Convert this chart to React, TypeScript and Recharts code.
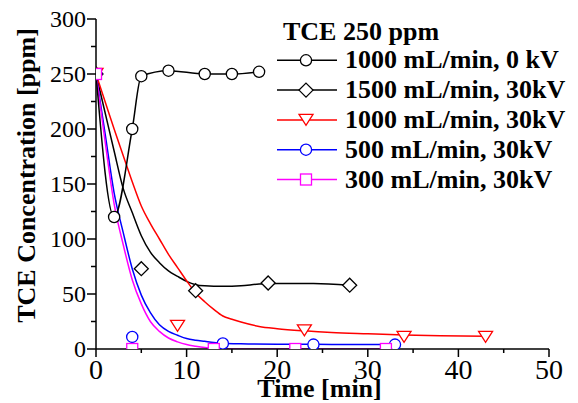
import { LineChart, Line, XAxis, YAxis, Legend, Label } from 'recharts';

const legendTitle = 'TCE 250 ppm';
const seriesNames = [
  '1000 mL/min, 0 kV',
  '1500 mL/min, 30kV',
  '1000 mL/min, 30kV',
  '500 mL/min, 30kV',
  '300 mL/min, 30kV',
];

// measured concentrations [ppm] vs time [min]
const time0kV = [0, 2, 4, 5, 8, 12, 15, 18];
const conc0kV = [250, 120, 200, 248, 253, 250, 250, 252];

const time1500 = [0, 5, 11, 19, 28];
const conc1500 = [250, 73, 53, 60, 58];

const time1000 = [0, 9, 23, 34, 43];
const conc1000 = [250, 21, 17, 11, 11];

const time500 = [0, 4, 14, 24, 33];
const conc500 = [250, 11, 5, 4, 4];

const time300 = [0, 4, 13, 22, 32];
const conc300 = [250, 0, 0, 0, 0];

// fitted decay curves
const fitTime1500 = [0, 1, 2, 3, 4, 5, 6, 7, 8, 9, 10, 11, 12, 14, 16, 18, 20, 24, 28];
const fit1500 = [250, 215, 180, 146, 124, 103, 88, 78.5, 71, 66, 61.5, 58.5, 57.5, 57, 57.5, 59, 59.5, 59.5, 58];

const fitTime1000 = [0, 1, 2, 3, 4, 5, 6, 7, 8, 9, 10, 11, 12, 13, 14, 15, 16, 18, 20, 23, 26, 30, 34, 38, 43];
const fit1000 = [250, 225, 200, 176, 152, 130, 114, 100, 86, 74, 62, 51, 43, 36, 30, 27, 24.5, 20.5, 18.5, 16.5, 15, 13.8, 12.7, 12, 11.5];

const fitTime500 = [0, 1, 2, 3, 4, 5, 6, 7, 8, 9, 10, 11, 12, 13, 14, 16, 20, 26, 33];
const fit500 = [250, 196, 142, 106, 73, 49, 33, 22, 16, 12.5, 9.5, 8, 7, 6, 5.3, 4.7, 4.3, 4.2, 4.1];

const fitTime300 = [0, 1, 2, 3, 4, 5, 6, 7, 8, 9, 10, 11, 12, 13, 14, 16, 20, 26, 32];
const fit300 = [250, 189, 132, 95, 63, 41, 25, 16, 10, 6.5, 4, 2.5, 1.3, 0.6, 0.2, 0, 0, 0, 0];

const xTicks = [0, 5, 10, 15, 20, 25, 30, 35, 40, 45, 50];
const yTicks = [0, 25, 50, 75, 100, 125, 150, 175, 200, 225, 250, 275, 300];

const FONT = '"Liberation Serif", "Times New Roman", serif';

type Shape = 'circle' | 'diamond' | 'triangle' | 'square';

const rows = (t: number[], v: number[]) => t.map((x, i) => ({ t: x, v: v[i] }));

const Marker = ({ shape, cx, cy, color }: { shape: Shape; cx: number; cy: number; color: string }) => {
  const common = { fill: '#fff', stroke: color, strokeWidth: 1.3 };
  switch (shape) {
    case 'circle':
      return <circle cx={cx} cy={cy} r={5.6} {...common} />;
    case 'diamond':
      return <polygon points={`${cx},${cy - 7} ${cx + 7},${cy} ${cx},${cy + 7} ${cx - 7},${cy}`} {...common} />;
    case 'triangle':
      return <polygon points={`${cx - 7},${cy - 5.5} ${cx + 7},${cy - 5.5} ${cx},${cy + 5.5}`} {...common} />;
    default:
      return <rect x={cx - 5.5} y={cy - 5.5} width={11} height={11} {...common} />;
  }
};

const series: { color: string; shape: Shape }[] = [
  { color: '#000000', shape: 'circle' },
  { color: '#000000', shape: 'diamond' },
  { color: '#ff0000', shape: 'triangle' },
  { color: '#0000ff', shape: 'circle' },
  { color: '#ff00ff', shape: 'square' },
];

const dotOf = (i: number) => (p: any) => (
  <Marker key={`m-${i}-${p.index}`} shape={series[i].shape} cx={p.cx} cy={p.cy} color={series[i].color} />
);

const XTick = (props: any) => {
  const { x, y, payload } = props;
  const major = payload.value % 10 === 0;
  return (
    <g>
      <line x1={x} x2={x} y1={y} y2={y + (major ? 8 : 4)} stroke="#000" strokeWidth={1.5} />
      {major && (
        <text x={x} y={y + 30} textAnchor="middle" fontFamily={FONT} fontSize={28} fill="#000">
          {payload.value}
        </text>
      )}
    </g>
  );
};

const YTick = (props: any) => {
  const { x, y, payload } = props;
  const major = payload.value % 50 === 0;
  return (
    <g>
      <line x1={x - (major ? 9 : 5)} x2={x} y1={y} y2={y} stroke="#000" strokeWidth={1.5} />
      {major && (
        <text x={x - 10} y={y + 8} textAnchor="end" fontFamily={FONT} fontSize={24} fill="#000">
          {payload.value}
        </text>
      )}
    </g>
  );
};

const LegendBox = () => (
  <svg width={300} height={200} style={{ overflow: 'visible' }}>
    <text x={13} y={32} fontFamily={FONT} fontSize={26} fontWeight="bold" fill="#000">
      {legendTitle}
    </text>
    {seriesNames.map((name, i) => {
      const base = 60.3 + i * 29.8;
      const ly = base - 8;
      return (
        <g key={name}>
          <line x1={7} x2={67} y1={ly} y2={ly} stroke={series[i].color} strokeWidth={1.5} />
          <Marker shape={series[i].shape} cx={36} cy={ly} color={series[i].color} />
          <text x={75} y={base} fontFamily={FONT} fontSize={26} fontWeight="bold" fill="#000">
            {name}
          </text>
        </g>
      );
    })}
  </svg>
);

const XTitle = (props: any) => {
  const { x, y, width } = props.viewBox;
  return (
    <text x={x + width / 2 - 3} y={y + 48} textAnchor="middle" fontFamily={FONT} fontSize={26} fontWeight="bold" fill="#000">
      Time [min]
    </text>
  );
};

const YTitle = (props: any) => {
  const { x, y, height } = props.viewBox;
  const tx = x + 35;
  const ty = y + height / 2 - 8.5;
  return (
    <text
      x={tx}
      y={ty}
      transform={`rotate(-90, ${tx}, ${ty})`}
      textAnchor="middle"
      fontFamily={FONT}
      fontSize={26}
      fontWeight="bold"
      fill="#000"
    >
      TCE Concentration [ppm]
    </text>
  );
};

const fits = [
  { data: rows(fitTime1500, fit1500), color: series[1].color },
  { data: rows(fitTime1000, fit1000), color: series[2].color },
  { data: rows(fitTime500, fit500), color: series[3].color },
  { data: rows(fitTime300, fit300), color: series[4].color },
];

const measured = [
  rows(time0kV, conc0kV),
  rows(time1500, conc1500),
  rows(time1000, conc1000),
  rows(time500, conc500),
  rows(time300, conc300),
];

export default function App() {
  return (
    <div style={{ position: 'absolute', left: 0, top: 0 }}>
      <LineChart width={578} height={403} margin={{ top: 19, right: 29, left: 0, bottom: 0 }}>
        <XAxis
          type="number"
          dataKey="t"
          domain={[0, 50]}
          ticks={xTicks}
          interval={0}
          height={54}
          tickSize={0}
          tickMargin={0}
          tickLine={false}
          tick={<XTick />}
          axisLine={{ stroke: '#000', strokeWidth: 1.5 }}
          allowDataOverflow
        >
          <Label content={XTitle} />
        </XAxis>
        <YAxis
          type="number"
          dataKey="v"
          domain={[0, 300]}
          ticks={yTicks}
          interval={0}
          width={96}
          tickSize={0}
          tickMargin={0}
          tickLine={false}
          tick={<YTick />}
          axisLine={{ stroke: '#000', strokeWidth: 1.5 }}
          allowDataOverflow
        >
          <Label content={YTitle} />
        </YAxis>
        <Legend
          layout="vertical"
          align="center"
          verticalAlign="middle"
          content={<LegendBox />}
          wrapperStyle={{ left: 270, top: 8, width: 300, height: 200 }}
        />
        {fits.map((f, i) => (
          <Line
            key={`fit-${i}`}
            data={f.data}
            dataKey="v"
            type="monotone"
            stroke={f.color}
            strokeWidth={1.5}
            dot={false}
            activeDot={false}
            isAnimationActive={false}
            legendType="none"
          />
        ))}
        {measured.map((d, i) => (
          <Line
            key={`pts-${i}`}
            data={d}
            dataKey="v"
            type="monotone"
            stroke={i === 0 ? series[0].color : 'none'}
            strokeWidth={1.5}
            dot={dotOf(i)}
            activeDot={false}
            isAnimationActive={false}
            legendType="none"
          />
        ))}
      </LineChart>
    </div>
  );
}
